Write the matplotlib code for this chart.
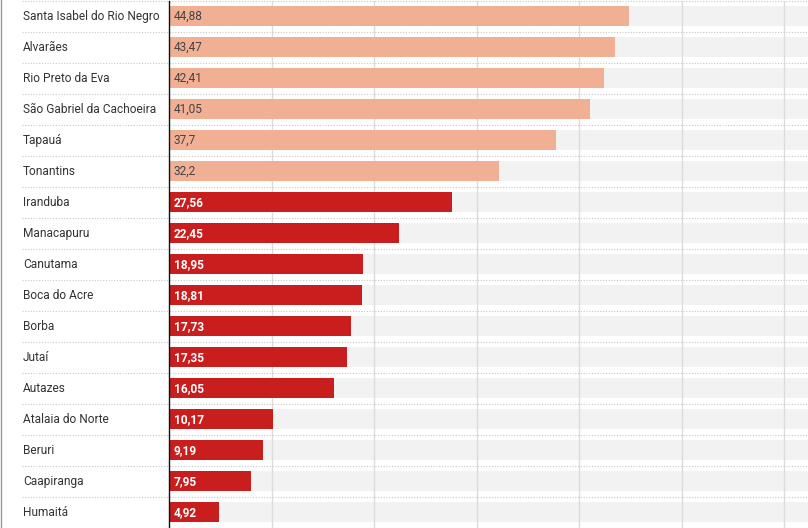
import matplotlib
matplotlib.use("Agg")
import matplotlib.pyplot as plt
import matplotlib.transforms as mtransforms
from matplotlib.lines import Line2D

plt.rcParams['font.family'] = ['Roboto', 'DejaVu Sans']

cities = ["Santa Isabel do Rio Negro", "Alvarães", "Rio Preto da Eva",
          "São Gabriel da Cachoeira", "Tapauá", "Tonantins", "Iranduba",
          "Manacapuru", "Canutama", "Boca do Acre", "Borba", "Jutaí",
          "Autazes", "Atalaia do Norte", "Beruri", "Caapiranga", "Humaitá"]
values = [44.88, 43.47, 42.41, 41.05, 37.7, 32.2, 27.56, 22.45, 18.95,
          18.81, 17.73, 17.35, 16.05, 10.17, 9.19, 7.95, 4.92]
labels = ["44,88", "43,47", "42,41", "41,05", "37,7", "32,2", "27,56",
          "22,45", "18,95", "18,81", "17,73", "17,35", "16,05", "10,17",
          "9,19", "7,95", "4,92"]
highlight = [True] * 6 + [False] * 11

light = "#f1b093"
dark = "#c81e1e"

fig = plt.figure(figsize=(8.08, 5.28), dpi=100)
ax = fig.add_axes([169 / 808, 0.5 / 528, 1 - 169 / 808, 527 / 528])

n = len(cities)
ys = list(range(n))
h = 20 / 31

ax.barh(ys, [100] * n, height=h, color="#f2f2f2", zorder=1)
ax.barh(ys, values, height=h,
        color=[light if hl else dark for hl in highlight], zorder=3)

for x in range(10, 70, 10):
    ax.axvline(x, color="#dcdcdc", lw=1, zorder=2)

for y, lab, hl in zip(ys, labels, highlight):
    ax.annotate(lab, (0, y), xytext=(3.5, -0.5), textcoords="offset points",
                va="center", ha="left", fontsize=8.6,
                color="#444444" if hl else "white",
                fontweight="normal" if hl else "bold", zorder=4)

# category labels and dotted separators, x in figure coords
trans = mtransforms.blended_transform_factory(fig.transFigure, ax.transData)
for y, c in zip(ys, cities):
    ax.text(23 / 808, y + 0.03, c, transform=trans, fontsize=8.6,
            color="#333333", va="center", ha="left", clip_on=False)
for yb in [y - 0.5 for y in ys] + [n - 0.5]:
    ax.plot([22 / 808, 1], [yb, yb], transform=trans, color="#c8c8c8",
            lw=0.8, ls=(0, (1, 1.5)), clip_on=False, zorder=2)

ax.set_xlim(0, 62.3)
ax.set_ylim(n - 0.5, -0.5)
ax.set_xticks([])
ax.set_yticks([])
for s in ["top", "right", "bottom"]:
    ax.spines[s].set_visible(False)
ax.spines["left"].set_color("#111111")
ax.spines["left"].set_linewidth(1)
ax.spines["left"].set_zorder(5)

fig.add_artist(Line2D([0.5 / 808, 0.5 / 808], [0, 1], color="#999999", lw=1))

fig.savefig("out.png", dpi=100)
